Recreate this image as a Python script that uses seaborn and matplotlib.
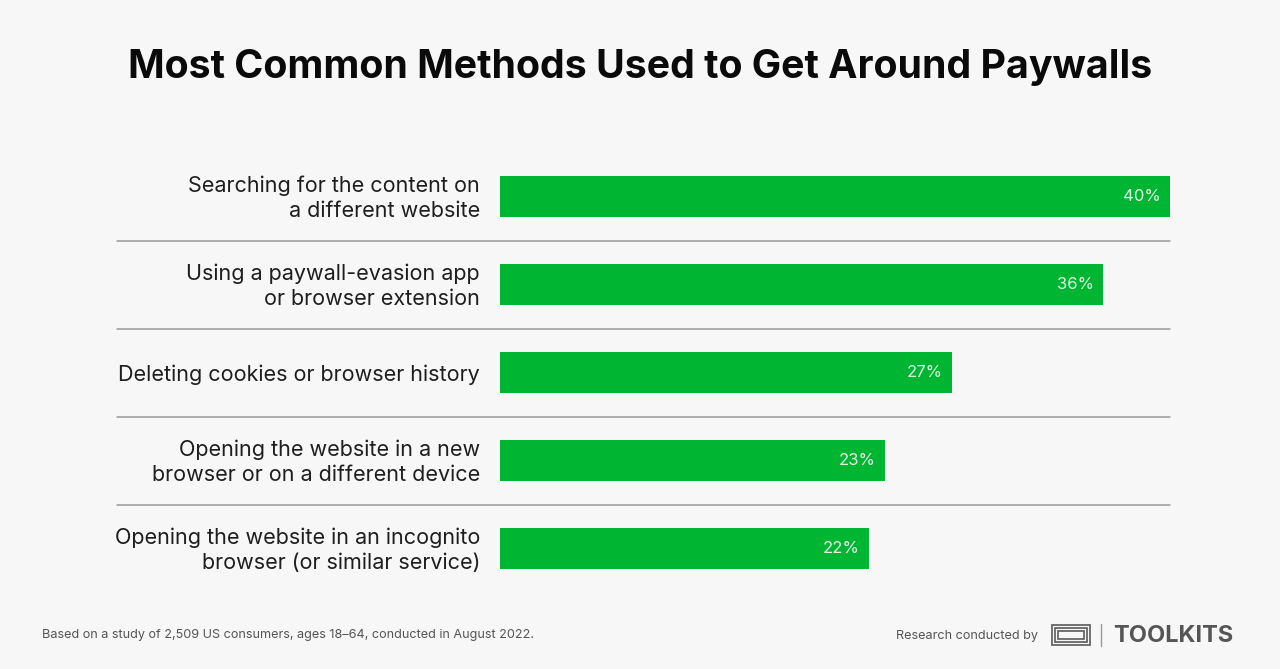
import matplotlib
matplotlib.use('Agg')
import matplotlib.pyplot as plt
import matplotlib.patches as mpatches
import seaborn as sns
import pandas as pd

# data
methods = [
    'Searching for the content on\na different website',
    'Using a paywall-evasion app\nor browser extension',
    'Deleting cookies or browser history',
    'Opening the website in a new\nbrowser or on a different device',
    'Opening the website in an incognito\nbrowser (or similar service)',
]
shares = [40, 36, 27, 23, 22]

title = 'Most Common Methods Used to Get Around Paywalls'
footnote = 'Based on a study of 2,509 US consumers, ages 18\u201364, conducted in August 2022.'

bg = '#f7f7f7'
green = '#00b531'

sns.set_theme(style='white')
plt.rcParams['font.family'] = ['Inter', 'DejaVu Sans']

df = pd.DataFrame({'method': methods, 'share': shares})

fig = plt.figure(figsize=(12.8, 6.69), dpi=100, facecolor=bg)
ax = fig.add_axes([500/1280, 1-592.5/669, 670/1280, 440/669])
ax.set_facecolor(bg)

sns.barplot(data=df, x='share', y='method', color=green, saturation=1,
            width=0.466, ax=ax, linewidth=0)
ax.set_xlim(0, 40)
ax.set_ylim(4.5, -0.5)
ax.set_xlabel('')
ax.set_ylabel('')
ax.set_xticks([])
ax.set_yticks([])
for s in ax.spines.values():
    s.set_visible(False)

# labels left of the bars
for i, (m, v) in enumerate(zip(methods, shares)):
    ax.text(-20/16.75, i + 0.02, m, ha='right', va='center', fontsize=15.5,
            color='#1e1e1e', linespacing=1.35)
    ax.text(v - 0.55, i, f'{v}%', ha='right', va='center', fontsize=12,
            color='#e3f6e6')

# separators running under the labels
x0 = (117 - 500) / 16.75
for i in range(len(methods) - 1):
    ax.plot([x0, 40], [i + 0.5, i + 0.5], color='#9a9a9a', lw=1.1,
            clip_on=False)

fig.text(0.5, 1-67/669, title, ha='center', va='center', fontsize=28.3,
         fontweight='bold', color='#0a0a0a')
fig.text(42/1280, 1-635/669, footnote, ha='left', va='center', fontsize=9.1,
         color='#555555')
fig.text(1038/1280, 1-636/669, 'Research conducted by', ha='right',
         va='center', fontsize=9.1, color='#555555')

# small logo mark
lc = '#666666'
for k in range(3):
    d = k * 3
    fig.add_artist(mpatches.Rectangle(((1052 + d)/1280, 1-(645 - d)/669),
                   (38 - 2*d)/1280, (20 - 2*d)/669, fill=False,
                   edgecolor=lc, lw=1.3, transform=fig.transFigure))
fig.add_artist(plt.Line2D([1101/1280, 1101/1280], [1-624/669, 1-646/669],
               color='#999999', lw=1, transform=fig.transFigure))
fig.text(1113/1280, 1-636/669, 'TOOLKITS', ha='left', va='center',
         fontsize=17, fontweight='bold', color='#555555')

fig.savefig('out.png', dpi=100, facecolor=bg)
